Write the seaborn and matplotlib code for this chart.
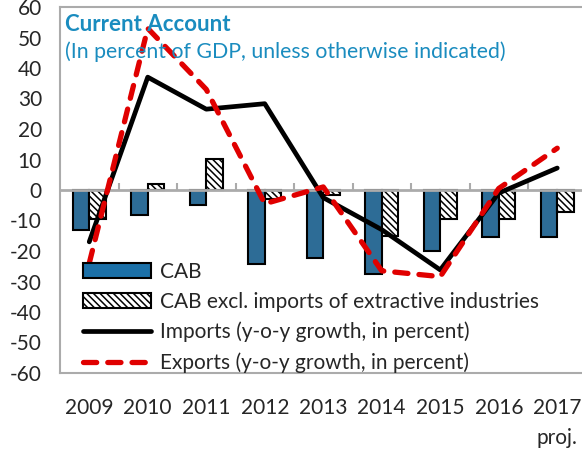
import numpy as np
import pandas as pd
import matplotlib
matplotlib.use("Agg")
import matplotlib.pyplot as plt
import seaborn as sns
from matplotlib.patches import Patch
from matplotlib.lines import Line2D

# Data
years = ['2009', '2010', '2011', '2012', '2013', '2014', '2015', '2016', '2017']
cab = [-13.2, -8.1, -4.9, -24.3, -22.3, -27.5, -19.9, -15.3, -15.3]
cab_excl = [-9.5, 1.9, 10.1, -3.0, -1.6, -15.0, -9.6, -9.6, -7.3]
imports = [-17.0, 37.0, 26.5, 28.3, -2.5, -13.0, -26.2, -1.0, 7.2]
exports = [-24.0, 53.0, 33.0, -4.5, 1.0, -26.5, -28.4, 0.5, 13.7]
series_names = ['CAB', 'CAB excl. imports of extractive industries',
                'Imports (y-o-y growth, in percent)',
                'Exports (y-o-y growth, in percent)']

blue = '#1B70A8'
red = '#E00000'
grey = '#ABABAB'
title_col = '#1A8CBF'
hatch = '\\\\\\\\\\'

sns.set_style('white')
plt.rcParams['font.family'] = ['Lato', 'DejaVu Sans']
plt.rcParams['axes.unicode_minus'] = False
plt.rcParams['hatch.linewidth'] = 1.1

bars = pd.DataFrame({
    'year': years * 2,
    'value': cab + cab_excl,
    'series': [series_names[0]] * len(years) + [series_names[1]] * len(years),
})

fig = plt.figure(figsize=(5.82, 4.49), dpi=100)
ax = fig.add_axes([60 / 582, 1 - 373 / 449, 526.5 / 582, 366 / 449])

sns.barplot(data=bars, x='year', y='value', hue='series', hue_order=series_names[:2],
            palette=[blue, 'white'], width=0.56, edgecolor='black', linewidth=1.5,
            legend=False, ax=ax)
for p in ax.containers[1]:
    p.set_hatch(hatch)

pos = np.arange(len(years))
sns.lineplot(x=pos, y=imports, color='black', linewidth=3.4, ax=ax)
sns.lineplot(x=pos, y=exports, color=red, linewidth=3.8,
             linestyle=(0, (2.5, 2.1)), dash_capstyle='round', ax=ax)

ax.set_ylim(-60, 60)
ax.set_xlim(-0.5, len(years) - 0.5)
ax.set_yticks(range(-60, 61, 10))
ax.set_xticks(pos, years)
ax.tick_params(axis='y', direction='in', length=5, width=1.2, color=grey,
               labelsize=15, pad=13)
ax.tick_params(axis='x', length=0, labelsize=15, pad=18)
ax.set_xlabel('')
ax.set_ylabel('')

# zero line with category separators
ax.axhline(0, color=grey, linewidth=2, zorder=1.5)
ax.vlines(pos[:-1] + 0.5, 0, 2.3, color=grey, linewidth=1.5, zorder=1.5)

for s in ['left', 'top', 'bottom', 'right']:
    ax.spines[s].set_color(grey)
    ax.spines[s].set_linewidth(1.5)

ax.text(0.01, 0.98, 'Current Account', transform=ax.transAxes, fontsize=16,
        fontweight='bold', color=title_col, va='top', ha='left')
ax.text(0.01, 0.905, '(In percent of GDP, unless otherwise indicated)',
        transform=ax.transAxes, fontsize=15.3, color=title_col, va='top', ha='left')

handles = [
    Patch(facecolor=blue, edgecolor='black', linewidth=1.5),
    Patch(facecolor='white', edgecolor='black', linewidth=1.5, hatch=hatch),
    Line2D([], [], color='black', linewidth=3.4),
    Line2D([], [], color=red, linewidth=3.8, linestyle=(0, (2.5, 2.1)),
           dash_capstyle='round'),
]
ax.legend(handles, series_names, loc='lower left', bbox_to_anchor=(0.043, 0.0),
          frameon=False, fontsize=15, handlelength=3.3, handleheight=0.75,
          handletextpad=0.4, labelspacing=0.48, borderpad=0, borderaxespad=0)

fig.text(577 / 582, 1 - 438 / 449, 'proj.', fontsize=15, ha='right', va='center')

fig.savefig('out.png', dpi=100)
